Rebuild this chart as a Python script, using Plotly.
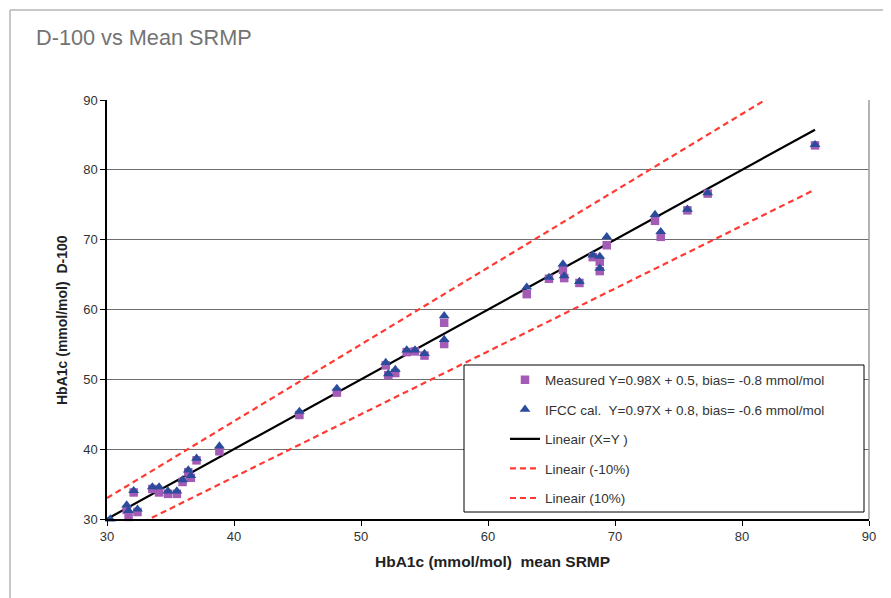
import plotly.graph_objects as go

# ---- data ----
srmp = [30.26, 31.55, 31.7, 32.1, 32.4, 33.57, 34.1, 34.8, 35.5, 35.95,
        36.4, 36.6, 37.05, 38.85, 45.15, 48.1, 51.95, 52.15, 52.7, 53.6,
        54.25, 55.0, 56.55, 56.55, 63.05, 64.8, 65.9, 66.0, 67.2, 68.25,
        68.8, 68.8, 69.35, 73.15, 73.6, 75.7, 77.3, 85.75]
measured = [29.9, 31.3, 30.3, 33.8, 31.0, 34.3, 33.8, 33.6, 33.6, 35.3,
            36.7, 35.9, 38.4, 39.7, 44.9, 48.1, 52.0, 50.6, 50.9, 53.9,
            54.0, 53.4, 58.1, 55.06, 62.2, 64.4, 65.7, 64.5, 63.8, 67.5,
            66.85, 65.5, 69.2, 72.7, 70.4, 74.2, 76.6, 83.5]
ifcc = [30.0, 32.0, 31.2, 34.05, 31.4, 34.6, 34.6, 34.0, 34.0, 35.6,
        37.0, 36.2, 38.7, 40.45, 45.4, 48.7, 52.4, 50.8, 51.4, 54.2,
        54.2, 53.7, 59.1, 55.7, 63.2, 64.6, 66.5, 64.8, 64.0, 67.8,
        67.6, 65.9, 70.4, 73.6, 71.15, 74.35, 76.7, 83.6]

line_x = [30, max(srmp)]
line_eq = list(line_x)
line_minus10 = [0.9 * v for v in line_x]
line_plus10 = [1.1 * v for v in line_x]

tick_vals = [30, 40, 50, 60, 70, 80, 90]

names = ["Measured Y=0.98X + 0.5, bias= -0.8 mmol/mol",
         "IFCC cal.  Y=0.97X + 0.8, bias= -0.6 mmol/mol",
         "Lineair (X=Y )",
         "Lineair (-10%)",
         "Lineair (10%)"]

FONT = "Liberation Sans, Arial, sans-serif"
RED = "#ff3a33"

fig = go.Figure()
fig.add_trace(go.Scatter(x=line_x, y=line_eq, mode="lines", name=names[2],
                         line=dict(color="black", width=2.2), legendgroup="c", legendrank=3))
fig.add_trace(go.Scatter(x=line_x, y=line_minus10, mode="lines", name=names[3],
                         line=dict(color=RED, width=2.2, dash="6px,4px"), legendgroup="d", legendrank=4))
fig.add_trace(go.Scatter(x=line_x, y=line_plus10, mode="lines", name=names[4],
                         line=dict(color=RED, width=2.2, dash="6px,4px"), legendgroup="e", legendrank=5))
fig.add_trace(go.Scatter(x=srmp, y=measured, mode="markers", name=names[0],
                         marker=dict(symbol="square", size=8.5, color="#a35bb5"),
                         cliponaxis=False, legendgroup="a", legendrank=1))
fig.add_trace(go.Scatter(x=srmp, y=ifcc, mode="markers", name=names[1],
                         marker=dict(symbol="triangle-up", size=9.5, color="#2b4c9b"),
                         cliponaxis=False, legendgroup="b", legendrank=2))

OFF = 8  # page body margin
W, H = 891 - OFF, 598 - OFF
L, R, T, B = 107 - OFF, 22, 100 - OFF, 79
pw, ph = W - L - R, H - T - B

def px(xp):  # page x -> paper x
    return (xp - OFF - L) / pw

def py(yp):  # page y -> paper y
    return (H - B - (yp - OFF)) / ph

shapes = [
    # outer frame (top & left)
    dict(type="line", xref="paper", yref="paper", x0=px(10), x1=px(10), y0=py(600), y1=py(10),
         line=dict(color="#b4b4b4", width=1.5)),
    dict(type="line", xref="paper", yref="paper", x0=px(10), x1=px(895), y0=py(10), y1=py(10),
         line=dict(color="#b4b4b4", width=1.5)),
    # right plot border
    dict(type="line", xref="paper", yref="paper", x0=1, x1=1, y0=0, y1=1,
         line=dict(color="#9a9a9a", width=1.5)),
    # legend box
    dict(type="rect", xref="paper", yref="paper", x0=px(464), x1=px(864), y0=py(512), y1=py(365),
         line=dict(color="black", width=1), fillcolor="white", layer="above"),
]

fig.update_layout(
    width=W, height=H,
    margin=dict(l=L, r=R, t=T, b=B),
    paper_bgcolor="white", plot_bgcolor="white",
    font=dict(family=FONT, color="#333333", size=12),
    shapes=shapes,
    showlegend=True,
    legend=dict(x=px(505), y=py(364.5), xanchor="left", yanchor="top",
                bgcolor="rgba(0,0,0,0)", borderwidth=0,
                font=dict(size=13.5, color="#333333", family=FONT),
                traceorder="grouped", tracegroupgap=9),
    annotations=[
        dict(text="D-100 vs Mean SRMP", xref="paper", yref="paper",
             x=px(34), y=py(37), xanchor="left", yanchor="middle", showarrow=False,
             font=dict(size=21.7, color="#737373", family=FONT)),
        dict(text="<b>HbA1c (mmol/mol)  mean SRMP</b>", xref="paper", yref="paper",
             x=px(493), y=py(561), xanchor="center", yanchor="middle", showarrow=False,
             font=dict(size=15.5, color="#222222", family=FONT)),
        dict(text="<b>HbA1c (mmol/mol)  D-100</b>", xref="paper", yref="paper",
             x=px(62), y=py(320), xanchor="center", yanchor="middle", showarrow=False,
             textangle=-90, font=dict(size=14, color="#222222", family=FONT)),
    ],
    xaxis=dict(range=[30, 90], tickvals=tick_vals, showgrid=False, zeroline=False,
               showline=True, linecolor="black", linewidth=1.5,
               ticks="outside", ticklen=5, tickcolor="black",
               tickfont=dict(size=13, color="#333333")),
    yaxis=dict(range=[30, 90], tickvals=tick_vals, showgrid=True, gridcolor="#6e6e6e", gridwidth=1,
               zeroline=False, showline=True, linecolor="black", linewidth=1.5,
               ticks="outside", ticklen=5, tickcolor="black",
               tickfont=dict(size=13, color="#333333")),
)

fig.write_html("out.html")
